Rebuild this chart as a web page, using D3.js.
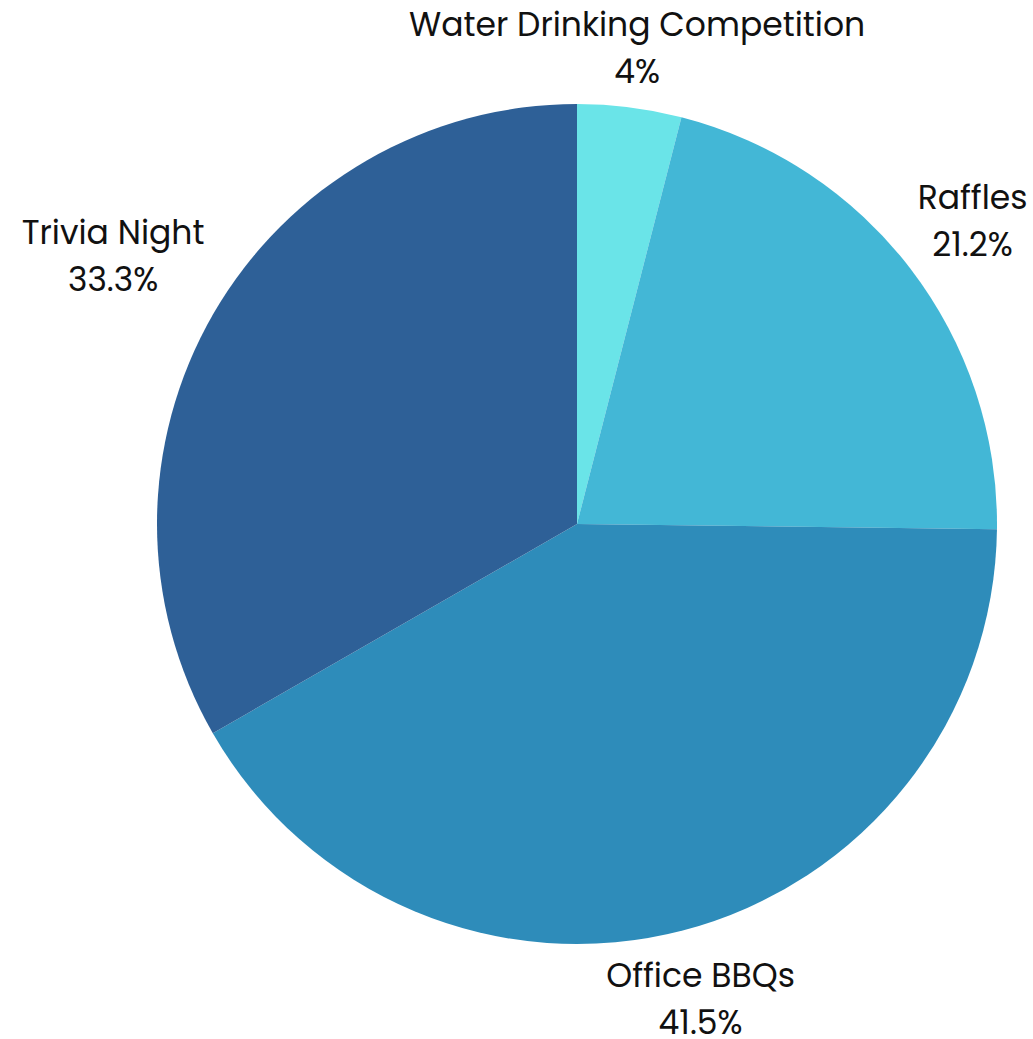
<!DOCTYPE html>
<html>
<head>
<meta charset="utf-8">
<script src="https://cdn.jsdelivr.net/npm/d3@7"></script>
<style>
	body { margin: 0; background: #fff; }
	text { font-family: "Poppins", "Noto Sans", sans-serif; fill: #111; }
</style>
</head>
<body>
<script>
	var categories = ["Water Drinking Competition", "Raffles", "Office BBQs", "Trivia Night"];
	var values = [4, 21.2, 41.5, 33.3];
	var colors = ["#6ae4e8", "#43b7d6", "#2e8cba", "#2e6097"];

	var width = 1033, height = 1039;
	var cx = 577, cy = 524, radius = 420;

	var svg = d3.select("body").append("svg")
		.attr("width", width)
		.attr("height", height);

	var pie = d3.pie().sort(null).value(function (d) { return d; });
	var arcs = pie(values);
	var arc = d3.arc().innerRadius(0).outerRadius(radius);

	var g = svg.append("g").attr("transform", "translate(" + cx + "," + cy + ")");

	g.selectAll(".slice")
		.data(arcs)
		.enter().append("path")
		.attr("class", "slice")
		.attr("d", arc)
		.style("fill", function (d, i) { return colors[i] });

	/*************************************************/
	// labels outside, two lines: name + percent, pushed out so the box clears the pie
	var labels = g.selectAll(".label")
		.data(arcs)
		.enter().append("g")
		.attr("class", "label");

	labels.each(function (d, i) {
		var a = (d.startAngle + d.endAngle) / 2;
		var sel = d3.select(this);
		var t1 = sel.append("text")
			.attr("text-anchor", "middle")
			.style("font-size", "33px")
			.attr("y", -12)
			.text(categories[i]);
		var t2 = sel.append("text")
			.attr("text-anchor", "middle")
			.style("font-size", "33px")
			.attr("y", 35)
			.text(d3.format("~")(values[i]) + "%");
		var w = Math.max(t1.node().getComputedTextLength(), t2.node().getComputedTextLength());
		var R = 458 + 0.52 * Math.abs(Math.sin(a)) * w - 8.5 * Math.cos(a);
		var x = R * Math.sin(a);
		var y = -R * Math.cos(a);
		sel.attr("transform", "translate(" + x + "," + y + ")");
	});
</script>
</body>
</html>
